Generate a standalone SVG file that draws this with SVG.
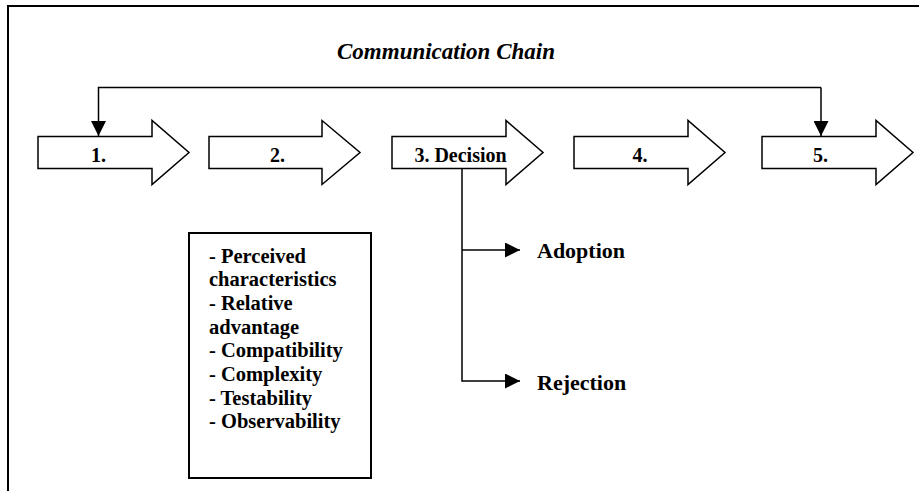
<svg xmlns="http://www.w3.org/2000/svg" width="919" height="491" viewBox="0 0 919 491">
  <style>
    .frame { fill: none; stroke: #000; stroke-width: 2; }
    .step { fill: #fff; stroke: #000; stroke-width: 1.5; stroke-linejoin: miter; }
    .wire { fill: none; stroke: #000; stroke-width: 1.5; }
    .num { font-size: 20px; text-anchor: middle; }
    .title { font-size: 23px; font-style: italic; text-anchor: middle; }
    .out { font-size: 22px; }
    .list { font-size: 20.5px; }
  </style>
  <defs>
    <marker id="headBig" viewBox="0 0 10 10" refX="10" refY="5" markerWidth="15" markerHeight="15" markerUnits="userSpaceOnUse" orient="auto">
      <path d="M0,0 L10,5 L0,10 Z" fill="#000"/>
    </marker>
  </defs>

  <rect x="8" y="6" width="920" height="500" class="frame"/>

  <g font-family="Liberation Serif, DejaVu Serif, serif" font-weight="bold" fill="#000">
    <text x="446" y="59" class="title">Communication Chain</text>

    <g id="step1">
      <path class="step" d="M38,136.5 H152 V120.5 L189,152.5 L152,184.5 V168.5 H38 Z"/>
      <text x="98.5" y="161.5" class="num">1.</text>
    </g>
    <g id="step2">
      <path class="step" d="M209,136.5 H322 V120.5 L360,152.5 L322,184.5 V168.5 H209 Z"/>
      <text x="277.5" y="161.5" class="num">2.</text>
    </g>
    <g id="step3">
      <path class="step" d="M392,136.5 H506 V120.5 L543,152.5 L506,184.5 V168.5 H392 Z"/>
      <text x="460.5" y="161.5" class="num">3. Decision</text>
    </g>
    <g id="step4">
      <path class="step" d="M574,136.5 H688 V120.5 L725,152.5 L688,184.5 V168.5 H574 Z"/>
      <text x="640" y="161.5" class="num">4.</text>
    </g>
    <g id="step5">
      <path class="step" d="M762,136.5 H876 V120.5 L913,152.5 L876,184.5 V168.5 H762 Z"/>
      <text x="820.5" y="161.5" class="num">5.</text>
    </g>

    <g id="characteristics">
      <rect x="189" y="233" width="182" height="245" class="frame"/>
      <text class="list">
        <tspan x="209" y="262.5">- Perceived</tspan>
        <tspan x="209" y="286.2">characteristics</tspan>
        <tspan x="209" y="309.9">- Relative</tspan>
        <tspan x="209" y="333.6">advantage</tspan>
        <tspan x="209" y="357.3">- Compatibility</tspan>
        <tspan x="209" y="381">- Complexity</tspan>
        <tspan x="209" y="404.7">- Testability</tspan>
        <tspan x="209" y="428.4">- Observability</tspan>
      </text>
    </g>

    <g id="adoption">
      <text x="537" y="258" class="out">Adoption</text>
    </g>
    <g id="rejection">
      <text x="537" y="390" class="out">Rejection</text>
    </g>
  </g>

  <g id="connectors">
    <!-- feedback loop over the chain -->
    <path class="wire" d="M821,87.5 H98.5 V136" marker-end="url(#headBig)"/>
    <path class="wire" d="M821,87.5 V136" marker-end="url(#headBig)"/>
    <!-- decision branches -->
    <path class="wire" d="M462,169 V381 H520" marker-end="url(#headBig)"/>
    <path class="wire" d="M462,250 H520" marker-end="url(#headBig)"/>
  </g>
</svg>
